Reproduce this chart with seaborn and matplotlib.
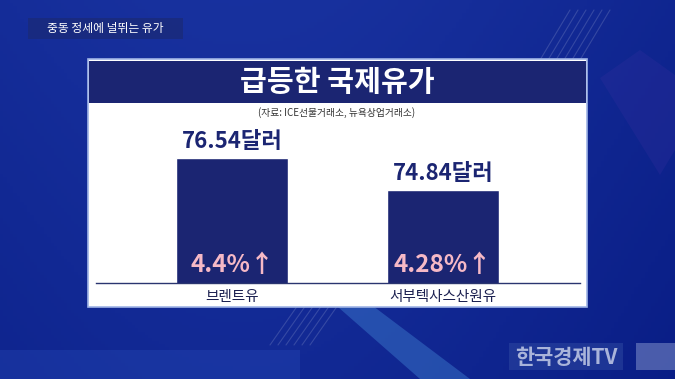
import numpy as np
import pandas as pd
import matplotlib
matplotlib.use("Agg")
import matplotlib.pyplot as plt
from matplotlib.patches import Rectangle, Polygon
import seaborn as sns

# data
categories = ["브렌트유", "서부텍사스산원유"]
prices = [76.54, 74.84]
price_labels = ["76.54달러", "74.84달러"]
change_labels = ["4.4%↑", "4.28%↑"]

TITLE = "급등한 국제유가"
SOURCE = "(자료: ICE선물거래소, 뉴욕상업거래소)"
HEADER = "중동 정세에 널뛰는 유가"
LOGO = "한국경제TV"

NAVY = "#1b2572"
PINK = "#f6b9c6"

sns.set_theme(style="white")
plt.rcParams["font.family"] = ["Noto Sans CJK KR", "DejaVu Sans"]

W, H = 675, 379
fig = plt.figure(figsize=(W / 100, H / 100), dpi=100)


def fx(px):
    return px / W


def fy(py):
    return 1 - py / H


# background
bg = fig.add_axes([0, 0, 1, 1])
bg.set_xlim(0, W)
bg.set_ylim(H, 0)
bg.axis("off")
xx, yy = np.meshgrid(np.linspace(0, 1, 200), np.linspace(0, 1, 120))
base = np.array([0.07, 0.16, 0.58])
img = np.zeros((120, 200, 3))
shade = 0.04 * np.sin(xx * 3 + 0.5) - 0.04 * yy
img[:] = base
img += shade[..., None] * np.array([0.6, 0.8, 1.0])
bg.imshow(np.clip(img, 0, 1), extent=[0, W, H, 0], aspect="auto", zorder=0)
bg.add_patch(Polygon([[330, 300], [365, 300], [470, 379], [420, 379]],
                     closed=True, color="#3f7fd0", alpha=0.45, lw=0, zorder=1))
bg.add_patch(Polygon([[0, 350], [300, 350], [300, 379], [0, 379]],
                     closed=True, color="#2a50c0", alpha=0.3, lw=0, zorder=1))
bg.add_patch(Polygon([[600, 78], [640, 50], [675, 75], [675, 150], [660, 175]],
                     closed=True, color="#3a2fa0", alpha=0.25, lw=0, zorder=1))
for k in range(6):
    x0 = 540 + k * 8
    bg.plot([x0, x0 + 30], [60, 10], color="white", alpha=0.15, lw=0.8, zorder=1)
    x1 = 270 + k * 8
    bg.plot([x1, x1 + 35], [345, 295], color="white", alpha=0.15, lw=0.8, zorder=1)

# header tag and logo
bg.add_patch(Rectangle((28, 18), 155, 21, color="#1a2a7a", alpha=0.8, lw=0, zorder=2))
bg.text(105, 28.5, HEADER, color="white", fontsize=8.5,
        ha="center", va="center", zorder=3)
bg.add_patch(Rectangle((509, 343), 114, 27, color="#3a55a8", alpha=0.4, lw=0, zorder=2))
bg.add_patch(Rectangle((636, 343), 39, 27, color="#8a9ad0", alpha=0.5, lw=0, zorder=2))
bg.text(566, 357, LOGO, color="#a9b4da", fontsize=15, fontweight="bold",
        ha="center", va="center", zorder=3)

# white panel with title band
bg.add_patch(Rectangle((88, 59), 499, 248, facecolor="white", edgecolor="#9fb4e6",
                       lw=1.2, zorder=2))
bg.add_patch(Rectangle((89, 61), 497, 42, color=NAVY, lw=0, zorder=3))
bg.text(337, 82, TITLE, color="white", fontsize=21, fontweight="bold",
        ha="center", va="center", zorder=4)
bg.text(337, 113, SOURCE, color="#333333", fontsize=7,
        ha="center", va="center", zorder=4)

# bar chart
ax = fig.add_axes([fx(96), fy(283), fx(580) - fx(96), fy(120) - fy(283)])
ax.patch.set_alpha(0)
df = pd.DataFrame({"category": categories, "price": prices})
sns.barplot(data=df, x="category", y="price", color=NAVY, saturation=1,
            width=0.53, ax=ax)
ax.set_ylim(69.9, 78.57)
ax.set_xlim(-0.645, 1.649)
ax.set_xlabel("")
ax.set_ylabel("")
ax.set_yticks([])
for s in ["top", "left", "right"]:
    ax.spines[s].set_visible(False)
ax.spines["bottom"].set_color("#2a3570")
ax.spines["bottom"].set_linewidth(1)
ax.tick_params(axis="x", length=0, pad=5)
for t in ax.get_xticklabels():
    t.set_fontsize(10.5)
    t.set_color("#1b2050")

for i, (p, pl, cl) in enumerate(zip(prices, price_labels, change_labels)):
    ax.annotate(pl, (i, p), xytext=(0, 4), textcoords="offset points",
                ha="center", va="bottom", fontsize=16, fontweight="bold", color=NAVY)
    ax.annotate(cl, (i, 69.9), xytext=(0, 13), textcoords="offset points",
                ha="center", va="center", fontsize=17.5, fontweight="bold", color=PINK)

fig.savefig("out.png", dpi=100)
